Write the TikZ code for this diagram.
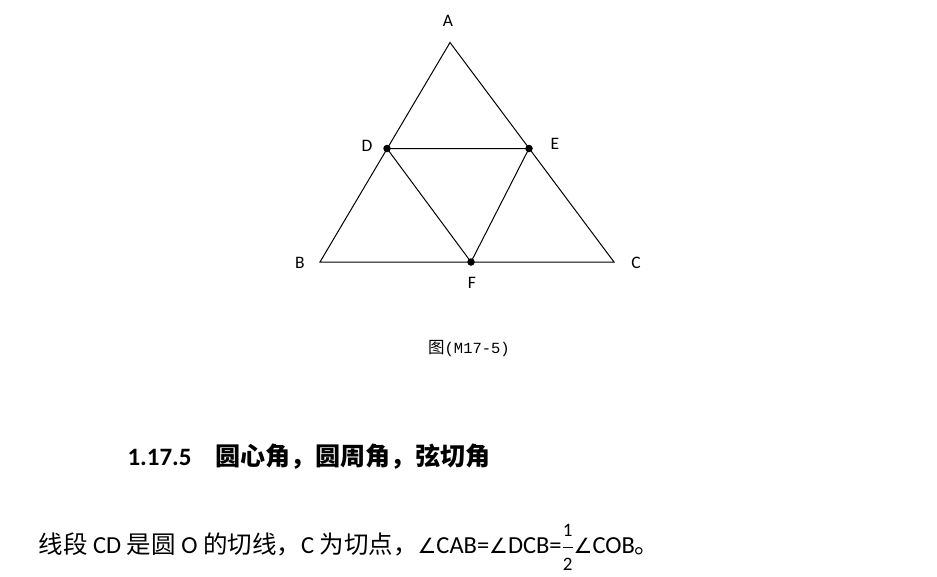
\documentclass[tikz,border=0pt]{standalone}
\usepackage{fontspec}
\setmainfont{Carlito}
\newfontfamily\cjk{Noto Sans CJK SC}
\newfontfamily\capmono{Liberation Mono}
\newfontfamily\symfont{DejaVu Sans}
\newcommand{\ang}{{\symfont\fontsize{21}{24}\selectfont\char"2220}}

\tikzset{
  dotpt/.style={circle, fill, inner sep=0pt, minimum size=7.5pt},
  lbl/.style={font=\fontsize{17.5}{20}\selectfont, inner sep=0pt},
}

\begin{document}
\begin{tikzpicture}[x=1pt, y=-1pt, line width=1pt]
    \useasboundingbox (0,0) rectangle (937,576);

    % Vertices
    \coordinate (A) at (450,42.5);
    \coordinate (B) at (320,262);
    \coordinate (C) at (614,262);
    \coordinate (D) at (387,148.5);
    \coordinate (E) at (529,148.5);
    \coordinate (F) at (471,262);

    % Triangles
    \draw (A) -- (B) -- (C) -- cycle;
    \draw (D) -- (E) -- (F) -- cycle;

    % Points
    \node[dotpt] (dotD) at (D) {};
    \node[dotpt] (dotE) at (E) {};
    \node[dotpt] (dotF) at (F) {};

    % Labels
    \node[lbl] (labA) at (448,21) {A};
    \node[lbl] (labB) at (300,263) {B};
    \node[lbl] (labC) at (636,263) {C};
    \node[lbl] (labD) at (367,146) {D};
    \node[lbl] (labE) at (555,144) {E};
    \node[lbl] (labF) at (472,283) {F};

    % Caption
    \node[font=\fontsize{16.5}{18}\selectfont] (caption) at (469,349)
        {\cjk 图\capmono\fontsize{15.5}{18}\selectfont(M17-5)};

    % Heading
    \node[anchor=west, inner sep=0pt, font=\bfseries\fontsize{25}{28}\selectfont] (heading) at (127,457)
        {1.17.5\hspace{24pt}{\cjk 圆心角，圆周角，弦切角}};

    % Text
    \node[anchor=west, inner sep=0pt, font=\fontsize{24.5}{28}\selectfont] (text) at (38,547)
        {{\cjk 线段} CD {\cjk 是圆} O {\cjk 的切线，}C {\cjk 为切点，}\ang CAB=\ang DCB=$\displaystyle\frac{\mbox{\fontsize{19}{19}\selectfont 1}}{\mbox{\fontsize{19}{19}\selectfont 2}}$\ang COB{\cjk 。}};
\end{tikzpicture}
\end{document}
